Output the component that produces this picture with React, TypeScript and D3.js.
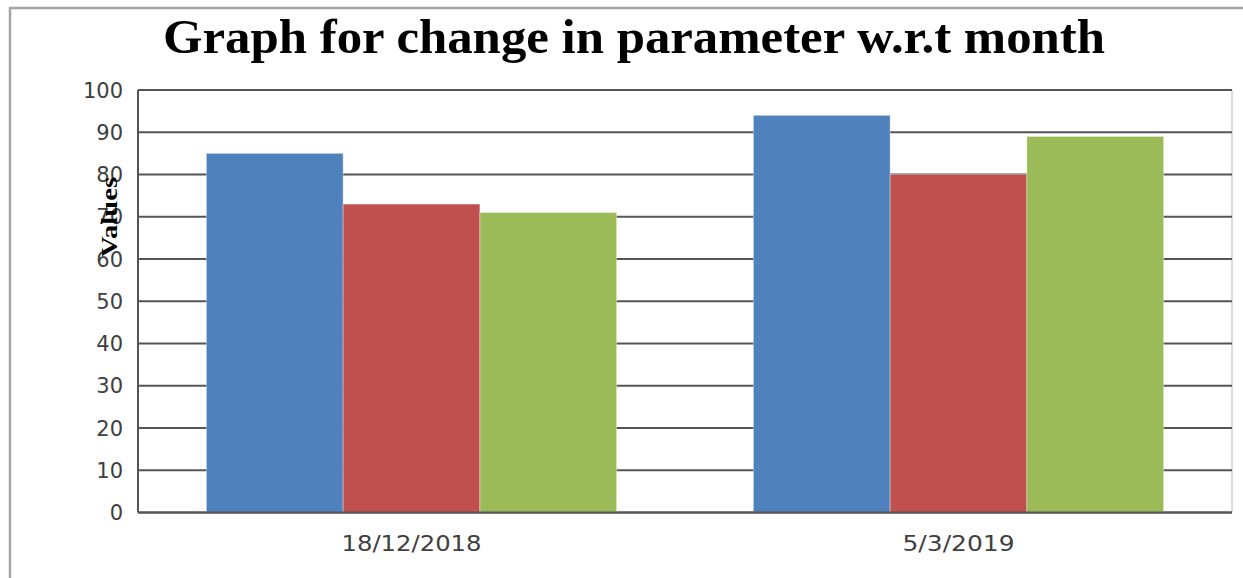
import React from "react";
import * as d3 from "d3";

const categories = ["18/12/2018", "5/3/2019"];
const seriesNames = ["Series 1", "Series 2", "Series 3"];
const seriesValues = [
  [85, 94],
  [73, 80],
  [71, 89],
];
const seriesColors = ["#4F81BD", "#C0504D", "#9BBB59"];
const yTicks = [0, 10, 20, 30, 40, 50, 60, 70, 80, 90, 100];
const title = "Graph for change in parameter w.r.t month";
const yAxisTitle = "Values";

const W = 1243;
const H = 578;
const plot = { left: 138, right: 1232, top: 90, bottom: 512.5 };

export default function App() {
  const xCat = d3.scaleBand<string>().domain(categories).range([plot.left, plot.right]);
  // Excel gap width 100%: each category band = 3 bars + 1 bar gap
  const barW = xCat.bandwidth() / 4;
  const y = d3.scaleLinear().domain([0, 100]).range([plot.bottom, plot.top]);

  return (
    <svg
      width={W}
      height={H}
      style={{ position: "absolute", left: 0, top: 0, background: "#fff" }}
    >
      <rect x={0} y={0} width={W} height={H} fill="#fff" />
      <rect x={10} y={8} width={W + 20} height={H + 20} fill="none" stroke="#a6a6a6" strokeWidth={2.5} />
      <text
        x={634}
        y={53}
        textAnchor="middle"
        fontFamily="'Liberation Serif', 'DejaVu Serif', serif"
        fontWeight="bold"
        fontSize={48}
        fill="#000"
        textLength={942}
        lengthAdjust="spacingAndGlyphs"
      >
        {title}
      </text>
      <line x1={plot.right} x2={plot.right} y1={plot.top} y2={plot.bottom} stroke="#d0d0d0" strokeWidth={1.5} />
      {yTicks.map((t) => (
        <line
          key={t}
          x1={plot.left}
          x2={plot.right}
          y1={y(t)}
          y2={y(t)}
          stroke="#555"
          strokeWidth={2}
        />
      ))}
      {categories.map((c, ci) =>
        seriesValues.map((vals, si) => {
          const xs = (xCat(c) as number) + barW * 0.5 + barW * si;
          return (
            <rect
              key={`${ci}-${si}`}
              x={xs}
              y={y(vals[ci])}
              width={barW}
              height={y(0) - y(vals[ci])}
              fill={seriesColors[si]}
              stroke="#ffffff"
              strokeOpacity={0.35}
              strokeWidth={1}
            >
              <title>{seriesNames[si]}</title>
            </rect>
          );
        })
      )}
      <line x1={plot.left} x2={plot.left} y1={plot.top} y2={plot.bottom} stroke="#555" strokeWidth={2} />
      <line x1={plot.left} x2={plot.right} y1={plot.bottom} y2={plot.bottom} stroke="#555" strokeWidth={2} />
      {yTicks.map((t) => (
        <text
          key={t}
          x={123}
          y={y(t) + 7.5}
          textAnchor="end"
          fontFamily="'DejaVu Sans', sans-serif"
          fontSize={21}
          fill="#404040"
        >
          {t}
        </text>
      ))}
      {categories.map((c) => (
        <text
          key={c}
          x={(xCat(c) as number) + xCat.bandwidth() / 2}
          y={551}
          textAnchor="middle"
          fontFamily="'DejaVu Sans', sans-serif"
          fontSize={22}
          fill="#404040"
          textLength={c.length * 14}
          lengthAdjust="spacingAndGlyphs"
        >
          {c}
        </text>
      ))}
      <text
        transform={`translate(117,217) rotate(-90)`}
        textAnchor="middle"
        fontFamily="'Liberation Serif', 'DejaVu Serif', serif"
        fontWeight="bold"
        fontSize={24}
        fill="#000"
        textLength={80}
        lengthAdjust="spacingAndGlyphs"
      >
        {yAxisTitle}
      </text>
    </svg>
  );
}
